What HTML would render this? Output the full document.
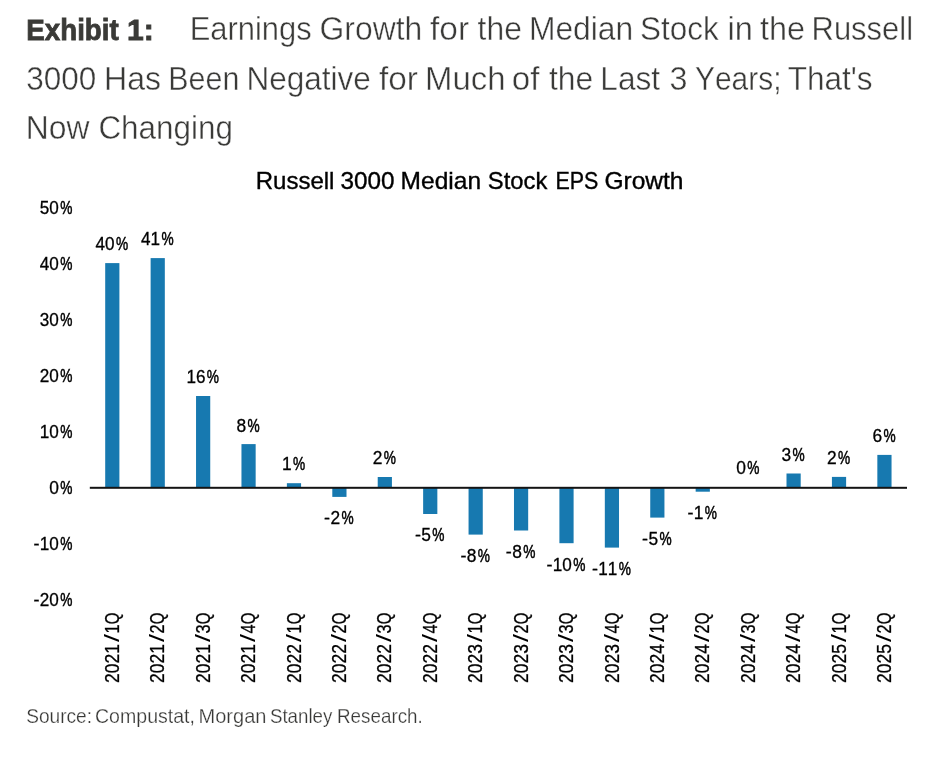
<!DOCTYPE html>
<html><head><meta charset="utf-8"><title>Exhibit 1</title>
<style>
html,body{margin:0;padding:0;background:#fff;}
body{width:928px;height:758px;overflow:hidden;font-family:"Liberation Sans",sans-serif;}
svg{display:block;will-change:transform;}
text{font-family:"Liberation Sans",sans-serif;font-kerning:none;}
.t{font-size:32.6px;fill:#3a3a38;stroke:#fff;stroke-width:0.42px;}
.tb{font-size:29.7px;font-weight:bold;fill:#3a3a37;stroke:#3a3a37;stroke-width:0.8px;}
.ct{font-size:23.6px;fill:#000;stroke:#000;stroke-width:0.35px;}
.lb{font-size:18.0px;fill:#000;stroke:#000;stroke-width:0.3px;}
.xl{font-size:19.6px;fill:#000;stroke:#000;stroke-width:0.3px;}
.pc{font-size:18.0px;fill:#000;stroke:#000;stroke-width:0.5px;}
.xs{font-size:19.6px;fill:#000;}
.src{font-size:20.3px;fill:#383836;stroke:#fff;stroke-width:0.25px;}
</style></head><body>
<svg width="928" height="758" viewBox="0 0 928 758">
<rect width="928" height="758" fill="#ffffff"/>

<text class="tb" x="26.35" y="39.7" textLength="92.39" lengthAdjust="spacingAndGlyphs">Exhibit</text>
<text class="tb" x="127.10" y="39.7" textLength="26.80" lengthAdjust="spacingAndGlyphs">1:</text>
<text class="t" x="189.67" y="39.7" textLength="121.95" lengthAdjust="spacingAndGlyphs">Earnings</text>
<text class="t" x="319.60" y="39.7" textLength="102.67" lengthAdjust="spacingAndGlyphs">Growth</text>
<text class="t" x="430.03" y="39.7" textLength="39.03" lengthAdjust="spacingAndGlyphs">for</text>
<text class="t" x="477.62" y="39.7" textLength="44.30" lengthAdjust="spacingAndGlyphs">the</text>
<text class="t" x="528.89" y="39.7" textLength="104.38" lengthAdjust="spacingAndGlyphs">Median</text>
<text class="t" x="640.07" y="39.7" textLength="78.68" lengthAdjust="spacingAndGlyphs">Stock</text>
<text class="t" x="727.62" y="39.7" textLength="25.40" lengthAdjust="spacingAndGlyphs">in</text>
<text class="t" x="760.01" y="39.7" textLength="45.03" lengthAdjust="spacingAndGlyphs">the</text>
<text class="t" x="811.56" y="39.7" textLength="101.51" lengthAdjust="spacingAndGlyphs">Russell</text>
<text class="t" x="26.20" y="89.7" textLength="70.03" lengthAdjust="spacingAndGlyphs">3000</text>
<text class="t" x="104.07" y="89.7" textLength="56.99" lengthAdjust="spacingAndGlyphs">Has</text>
<text class="t" x="168.30" y="89.7" textLength="71.07" lengthAdjust="spacingAndGlyphs">Been</text>
<text class="t" x="246.51" y="89.7" textLength="124.39" lengthAdjust="spacingAndGlyphs">Negative</text>
<text class="t" x="379.03" y="89.7" textLength="38.93" lengthAdjust="spacingAndGlyphs">for</text>
<text class="t" x="425.00" y="89.7" textLength="80.43" lengthAdjust="spacingAndGlyphs">Much</text>
<text class="t" x="511.81" y="89.7" textLength="27.64" lengthAdjust="spacingAndGlyphs">of</text>
<text class="t" x="549.02" y="89.7" textLength="44.30" lengthAdjust="spacingAndGlyphs">the</text>
<text class="t" x="600.30" y="89.7" textLength="59.83" lengthAdjust="spacingAndGlyphs">Last</text>
<text class="t" x="669.57" y="89.7" textLength="17.95" lengthAdjust="spacingAndGlyphs">3</text>
<text class="t" x="695.04" y="89.7" textLength="86.44" lengthAdjust="spacingAndGlyphs">Years;</text>
<text class="t" x="787.69" y="89.7" textLength="84.85" lengthAdjust="spacingAndGlyphs">That&#39;s</text>
<text class="t" x="25.69" y="139.1" textLength="63.74" lengthAdjust="spacingAndGlyphs">Now</text>
<text class="t" x="98.40" y="139.1" textLength="134.62" lengthAdjust="spacingAndGlyphs">Changing</text>
<text class="ct" x="255.68" y="189.4" textLength="78.78" lengthAdjust="spacingAndGlyphs">Russell</text>
<text class="ct" x="340.52" y="189.4" textLength="54.08" lengthAdjust="spacingAndGlyphs">3000</text>
<text class="ct" x="400.64" y="189.4" textLength="80.40" lengthAdjust="spacingAndGlyphs">Median</text>
<text class="ct" x="487.87" y="189.4" textLength="59.44" lengthAdjust="spacingAndGlyphs">Stock</text>
<text class="ct" x="555.39" y="189.4" textLength="42.95" lengthAdjust="spacingAndGlyphs">EPS</text>
<text class="ct" x="604.42" y="189.4" textLength="79.03" lengthAdjust="spacingAndGlyphs">Growth</text>
<text class="pc" x="60.21" y="213.6" textLength="12.18" lengthAdjust="spacingAndGlyphs">%</text><text class="lb" x="39.78" y="213.6" textLength="19.04" lengthAdjust="spacingAndGlyphs">50</text>
<text class="pc" x="60.21" y="269.6" textLength="12.18" lengthAdjust="spacingAndGlyphs">%</text><text class="lb" x="39.78" y="269.6" textLength="19.04" lengthAdjust="spacingAndGlyphs">40</text>
<text class="pc" x="60.21" y="325.6" textLength="12.18" lengthAdjust="spacingAndGlyphs">%</text><text class="lb" x="39.78" y="325.6" textLength="19.04" lengthAdjust="spacingAndGlyphs">30</text>
<text class="pc" x="60.21" y="381.6" textLength="12.18" lengthAdjust="spacingAndGlyphs">%</text><text class="lb" x="39.78" y="381.6" textLength="19.04" lengthAdjust="spacingAndGlyphs">20</text>
<text class="pc" x="60.21" y="437.6" textLength="12.18" lengthAdjust="spacingAndGlyphs">%</text><text class="lb" x="39.78" y="437.6" textLength="19.04" lengthAdjust="spacingAndGlyphs">10</text>
<text class="pc" x="60.21" y="493.6" textLength="12.18" lengthAdjust="spacingAndGlyphs">%</text><text class="lb" x="49.17" y="493.6" textLength="9.66" lengthAdjust="spacingAndGlyphs">0</text>
<text class="pc" x="60.21" y="549.6" textLength="12.18" lengthAdjust="spacingAndGlyphs">%</text><text class="lb" x="39.78" y="549.6" textLength="19.04" lengthAdjust="spacingAndGlyphs">10</text><text class="lb" x="33.45" y="549.6" textLength="6.00" lengthAdjust="spacingAndGlyphs">-</text>
<text class="pc" x="60.21" y="605.6" textLength="12.18" lengthAdjust="spacingAndGlyphs">%</text><text class="lb" x="39.78" y="605.6" textLength="19.04" lengthAdjust="spacingAndGlyphs">20</text><text class="lb" x="33.45" y="605.6" textLength="6.00" lengthAdjust="spacingAndGlyphs">-</text>
<rect x="105.20" y="263.10" width="14.2" height="224.65" fill="#1779b0"/>
<text class="pc" x="115.99" y="250.1" textLength="12.18" lengthAdjust="spacingAndGlyphs">%</text><text class="lb" x="95.56" y="250.1" textLength="19.04" lengthAdjust="spacingAndGlyphs">40</text>
<rect x="150.62" y="258.10" width="14.2" height="229.65" fill="#1779b0"/>
<text class="pc" x="161.41" y="245.0" textLength="12.18" lengthAdjust="spacingAndGlyphs">%</text><text class="lb" x="140.98" y="245.0" textLength="19.04" lengthAdjust="spacingAndGlyphs">41</text>
<rect x="196.04" y="396.00" width="14.2" height="91.75" fill="#1779b0"/>
<text class="pc" x="206.83" y="382.7" textLength="12.18" lengthAdjust="spacingAndGlyphs">%</text><text class="lb" x="186.40" y="382.7" textLength="19.04" lengthAdjust="spacingAndGlyphs">16</text>
<rect x="241.46" y="444.10" width="14.2" height="43.65" fill="#1779b0"/>
<text class="pc" x="247.55" y="432.1" textLength="12.18" lengthAdjust="spacingAndGlyphs">%</text><text class="lb" x="236.51" y="432.1" textLength="9.66" lengthAdjust="spacingAndGlyphs">8</text>
<rect x="286.88" y="483.20" width="14.2" height="4.55" fill="#1779b0"/>
<text class="pc" x="292.97" y="469.8" textLength="12.18" lengthAdjust="spacingAndGlyphs">%</text><text class="lb" x="281.93" y="469.8" textLength="9.66" lengthAdjust="spacingAndGlyphs">1</text>
<rect x="332.30" y="487.75" width="14.2" height="9.15" fill="#1779b0"/>
<text class="pc" x="341.49" y="523.7" textLength="12.18" lengthAdjust="spacingAndGlyphs">%</text><text class="lb" x="330.45" y="523.7" textLength="9.66" lengthAdjust="spacingAndGlyphs">2</text><text class="lb" x="324.12" y="523.7" textLength="6.00" lengthAdjust="spacingAndGlyphs">-</text>
<rect x="377.72" y="477.00" width="14.2" height="10.75" fill="#1779b0"/>
<text class="pc" x="383.81" y="463.9" textLength="12.18" lengthAdjust="spacingAndGlyphs">%</text><text class="lb" x="372.77" y="463.9" textLength="9.66" lengthAdjust="spacingAndGlyphs">2</text>
<rect x="423.14" y="487.75" width="14.2" height="26.25" fill="#1779b0"/>
<text class="pc" x="432.33" y="540.8" textLength="12.18" lengthAdjust="spacingAndGlyphs">%</text><text class="lb" x="421.29" y="540.8" textLength="9.66" lengthAdjust="spacingAndGlyphs">5</text><text class="lb" x="414.96" y="540.8" textLength="6.00" lengthAdjust="spacingAndGlyphs">-</text>
<rect x="468.56" y="487.75" width="14.2" height="46.85" fill="#1779b0"/>
<text class="pc" x="477.75" y="561.8" textLength="12.18" lengthAdjust="spacingAndGlyphs">%</text><text class="lb" x="466.71" y="561.8" textLength="9.66" lengthAdjust="spacingAndGlyphs">8</text><text class="lb" x="460.38" y="561.8" textLength="6.00" lengthAdjust="spacingAndGlyphs">-</text>
<rect x="513.98" y="487.75" width="14.2" height="42.75" fill="#1779b0"/>
<text class="pc" x="523.17" y="557.7" textLength="12.18" lengthAdjust="spacingAndGlyphs">%</text><text class="lb" x="512.13" y="557.7" textLength="9.66" lengthAdjust="spacingAndGlyphs">8</text><text class="lb" x="505.80" y="557.7" textLength="6.00" lengthAdjust="spacingAndGlyphs">-</text>
<rect x="559.40" y="487.75" width="14.2" height="55.45" fill="#1779b0"/>
<text class="pc" x="573.29" y="571.0" textLength="12.18" lengthAdjust="spacingAndGlyphs">%</text><text class="lb" x="552.86" y="571.0" textLength="19.04" lengthAdjust="spacingAndGlyphs">10</text><text class="lb" x="546.52" y="571.0" textLength="6.00" lengthAdjust="spacingAndGlyphs">-</text>
<rect x="604.82" y="487.75" width="14.2" height="59.85" fill="#1779b0"/>
<text class="pc" x="618.71" y="574.7" textLength="12.18" lengthAdjust="spacingAndGlyphs">%</text><text class="lb" x="598.28" y="574.7" textLength="19.04" lengthAdjust="spacingAndGlyphs">11</text><text class="lb" x="591.94" y="574.7" textLength="6.00" lengthAdjust="spacingAndGlyphs">-</text>
<rect x="650.24" y="487.75" width="14.2" height="29.85" fill="#1779b0"/>
<text class="pc" x="659.43" y="544.6" textLength="12.18" lengthAdjust="spacingAndGlyphs">%</text><text class="lb" x="648.39" y="544.6" textLength="9.66" lengthAdjust="spacingAndGlyphs">5</text><text class="lb" x="642.06" y="544.6" textLength="6.00" lengthAdjust="spacingAndGlyphs">-</text>
<rect x="695.66" y="487.75" width="14.2" height="3.95" fill="#1779b0"/>
<text class="pc" x="704.85" y="518.9" textLength="12.18" lengthAdjust="spacingAndGlyphs">%</text><text class="lb" x="693.81" y="518.9" textLength="9.66" lengthAdjust="spacingAndGlyphs">1</text><text class="lb" x="687.48" y="518.9" textLength="6.00" lengthAdjust="spacingAndGlyphs">-</text>
<rect x="741.08" y="487.30" width="14.2" height="0.45" fill="#1779b0"/>
<text class="pc" x="747.17" y="473.9" textLength="12.18" lengthAdjust="spacingAndGlyphs">%</text><text class="lb" x="736.13" y="473.9" textLength="9.66" lengthAdjust="spacingAndGlyphs">0</text>
<rect x="786.50" y="473.50" width="14.2" height="14.25" fill="#1779b0"/>
<text class="pc" x="792.59" y="460.9" textLength="12.18" lengthAdjust="spacingAndGlyphs">%</text><text class="lb" x="781.55" y="460.9" textLength="9.66" lengthAdjust="spacingAndGlyphs">3</text>
<rect x="831.92" y="476.90" width="14.2" height="10.85" fill="#1779b0"/>
<text class="pc" x="838.01" y="464.2" textLength="12.18" lengthAdjust="spacingAndGlyphs">%</text><text class="lb" x="826.97" y="464.2" textLength="9.66" lengthAdjust="spacingAndGlyphs">2</text>
<rect x="877.34" y="454.90" width="14.2" height="32.85" fill="#1779b0"/>
<text class="pc" x="883.43" y="442.0" textLength="12.18" lengthAdjust="spacingAndGlyphs">%</text><text class="lb" x="872.39" y="442.0" textLength="9.66" lengthAdjust="spacingAndGlyphs">6</text>
<rect x="89.8" y="486.8" width="817.2" height="2" fill="#141414"/>
<g transform="translate(118.9,682.2) rotate(-90)"><text class="xl" x="-0.73" y="0.0" textLength="38.86" lengthAdjust="spacingAndGlyphs">2021</text><text class="xs" x="40.30" y="0.0" textLength="8.10" lengthAdjust="spacingAndGlyphs">/</text><text class="xl" x="48.71" y="0.0" textLength="9.07" lengthAdjust="spacingAndGlyphs">1</text><text class="xl" x="57.94" y="0.0" textLength="11.62" lengthAdjust="spacingAndGlyphs">Q</text></g>
<g transform="translate(164.3,682.2) rotate(-90)"><text class="xl" x="-0.73" y="0.0" textLength="38.86" lengthAdjust="spacingAndGlyphs">2021</text><text class="xs" x="40.30" y="0.0" textLength="8.10" lengthAdjust="spacingAndGlyphs">/</text><text class="xl" x="48.71" y="0.0" textLength="9.07" lengthAdjust="spacingAndGlyphs">2</text><text class="xl" x="57.94" y="0.0" textLength="11.62" lengthAdjust="spacingAndGlyphs">Q</text></g>
<g transform="translate(209.7,682.2) rotate(-90)"><text class="xl" x="-0.73" y="0.0" textLength="38.86" lengthAdjust="spacingAndGlyphs">2021</text><text class="xs" x="40.30" y="0.0" textLength="8.10" lengthAdjust="spacingAndGlyphs">/</text><text class="xl" x="48.71" y="0.0" textLength="9.07" lengthAdjust="spacingAndGlyphs">3</text><text class="xl" x="57.94" y="0.0" textLength="11.62" lengthAdjust="spacingAndGlyphs">Q</text></g>
<g transform="translate(255.2,682.2) rotate(-90)"><text class="xl" x="-0.73" y="0.0" textLength="38.86" lengthAdjust="spacingAndGlyphs">2021</text><text class="xs" x="40.30" y="0.0" textLength="8.10" lengthAdjust="spacingAndGlyphs">/</text><text class="xl" x="48.71" y="0.0" textLength="9.07" lengthAdjust="spacingAndGlyphs">4</text><text class="xl" x="57.94" y="0.0" textLength="11.62" lengthAdjust="spacingAndGlyphs">Q</text></g>
<g transform="translate(300.6,682.2) rotate(-90)"><text class="xl" x="-0.73" y="0.0" textLength="38.86" lengthAdjust="spacingAndGlyphs">2022</text><text class="xs" x="40.30" y="0.0" textLength="8.10" lengthAdjust="spacingAndGlyphs">/</text><text class="xl" x="48.71" y="0.0" textLength="9.07" lengthAdjust="spacingAndGlyphs">1</text><text class="xl" x="57.94" y="0.0" textLength="11.62" lengthAdjust="spacingAndGlyphs">Q</text></g>
<g transform="translate(346.0,682.2) rotate(-90)"><text class="xl" x="-0.73" y="0.0" textLength="38.86" lengthAdjust="spacingAndGlyphs">2022</text><text class="xs" x="40.30" y="0.0" textLength="8.10" lengthAdjust="spacingAndGlyphs">/</text><text class="xl" x="48.71" y="0.0" textLength="9.07" lengthAdjust="spacingAndGlyphs">2</text><text class="xl" x="57.94" y="0.0" textLength="11.62" lengthAdjust="spacingAndGlyphs">Q</text></g>
<g transform="translate(391.4,682.2) rotate(-90)"><text class="xl" x="-0.73" y="0.0" textLength="38.86" lengthAdjust="spacingAndGlyphs">2022</text><text class="xs" x="40.30" y="0.0" textLength="8.10" lengthAdjust="spacingAndGlyphs">/</text><text class="xl" x="48.71" y="0.0" textLength="9.07" lengthAdjust="spacingAndGlyphs">3</text><text class="xl" x="57.94" y="0.0" textLength="11.62" lengthAdjust="spacingAndGlyphs">Q</text></g>
<g transform="translate(436.8,682.2) rotate(-90)"><text class="xl" x="-0.73" y="0.0" textLength="38.86" lengthAdjust="spacingAndGlyphs">2022</text><text class="xs" x="40.30" y="0.0" textLength="8.10" lengthAdjust="spacingAndGlyphs">/</text><text class="xl" x="48.71" y="0.0" textLength="9.07" lengthAdjust="spacingAndGlyphs">4</text><text class="xl" x="57.94" y="0.0" textLength="11.62" lengthAdjust="spacingAndGlyphs">Q</text></g>
<g transform="translate(482.3,682.2) rotate(-90)"><text class="xl" x="-0.73" y="0.0" textLength="38.86" lengthAdjust="spacingAndGlyphs">2023</text><text class="xs" x="40.30" y="0.0" textLength="8.10" lengthAdjust="spacingAndGlyphs">/</text><text class="xl" x="48.71" y="0.0" textLength="9.07" lengthAdjust="spacingAndGlyphs">1</text><text class="xl" x="57.94" y="0.0" textLength="11.62" lengthAdjust="spacingAndGlyphs">Q</text></g>
<g transform="translate(527.7,682.2) rotate(-90)"><text class="xl" x="-0.73" y="0.0" textLength="38.86" lengthAdjust="spacingAndGlyphs">2023</text><text class="xs" x="40.30" y="0.0" textLength="8.10" lengthAdjust="spacingAndGlyphs">/</text><text class="xl" x="48.71" y="0.0" textLength="9.07" lengthAdjust="spacingAndGlyphs">2</text><text class="xl" x="57.94" y="0.0" textLength="11.62" lengthAdjust="spacingAndGlyphs">Q</text></g>
<g transform="translate(573.1,682.2) rotate(-90)"><text class="xl" x="-0.73" y="0.0" textLength="38.86" lengthAdjust="spacingAndGlyphs">2023</text><text class="xs" x="40.30" y="0.0" textLength="8.10" lengthAdjust="spacingAndGlyphs">/</text><text class="xl" x="48.71" y="0.0" textLength="9.07" lengthAdjust="spacingAndGlyphs">3</text><text class="xl" x="57.94" y="0.0" textLength="11.62" lengthAdjust="spacingAndGlyphs">Q</text></g>
<g transform="translate(618.5,682.2) rotate(-90)"><text class="xl" x="-0.73" y="0.0" textLength="38.86" lengthAdjust="spacingAndGlyphs">2023</text><text class="xs" x="40.30" y="0.0" textLength="8.10" lengthAdjust="spacingAndGlyphs">/</text><text class="xl" x="48.71" y="0.0" textLength="9.07" lengthAdjust="spacingAndGlyphs">4</text><text class="xl" x="57.94" y="0.0" textLength="11.62" lengthAdjust="spacingAndGlyphs">Q</text></g>
<g transform="translate(663.9,682.2) rotate(-90)"><text class="xl" x="-0.73" y="0.0" textLength="38.86" lengthAdjust="spacingAndGlyphs">2024</text><text class="xs" x="40.30" y="0.0" textLength="8.10" lengthAdjust="spacingAndGlyphs">/</text><text class="xl" x="48.71" y="0.0" textLength="9.07" lengthAdjust="spacingAndGlyphs">1</text><text class="xl" x="57.94" y="0.0" textLength="11.62" lengthAdjust="spacingAndGlyphs">Q</text></g>
<g transform="translate(709.4,682.2) rotate(-90)"><text class="xl" x="-0.73" y="0.0" textLength="38.86" lengthAdjust="spacingAndGlyphs">2024</text><text class="xs" x="40.30" y="0.0" textLength="8.10" lengthAdjust="spacingAndGlyphs">/</text><text class="xl" x="48.71" y="0.0" textLength="9.07" lengthAdjust="spacingAndGlyphs">2</text><text class="xl" x="57.94" y="0.0" textLength="11.62" lengthAdjust="spacingAndGlyphs">Q</text></g>
<g transform="translate(754.8,682.2) rotate(-90)"><text class="xl" x="-0.73" y="0.0" textLength="38.86" lengthAdjust="spacingAndGlyphs">2024</text><text class="xs" x="40.30" y="0.0" textLength="8.10" lengthAdjust="spacingAndGlyphs">/</text><text class="xl" x="48.71" y="0.0" textLength="9.07" lengthAdjust="spacingAndGlyphs">3</text><text class="xl" x="57.94" y="0.0" textLength="11.62" lengthAdjust="spacingAndGlyphs">Q</text></g>
<g transform="translate(800.2,682.2) rotate(-90)"><text class="xl" x="-0.73" y="0.0" textLength="38.86" lengthAdjust="spacingAndGlyphs">2024</text><text class="xs" x="40.30" y="0.0" textLength="8.10" lengthAdjust="spacingAndGlyphs">/</text><text class="xl" x="48.71" y="0.0" textLength="9.07" lengthAdjust="spacingAndGlyphs">4</text><text class="xl" x="57.94" y="0.0" textLength="11.62" lengthAdjust="spacingAndGlyphs">Q</text></g>
<g transform="translate(845.6,682.2) rotate(-90)"><text class="xl" x="-0.73" y="0.0" textLength="38.86" lengthAdjust="spacingAndGlyphs">2025</text><text class="xs" x="40.30" y="0.0" textLength="8.10" lengthAdjust="spacingAndGlyphs">/</text><text class="xl" x="48.71" y="0.0" textLength="9.07" lengthAdjust="spacingAndGlyphs">1</text><text class="xl" x="57.94" y="0.0" textLength="11.62" lengthAdjust="spacingAndGlyphs">Q</text></g>
<g transform="translate(891.0,682.2) rotate(-90)"><text class="xl" x="-0.73" y="0.0" textLength="38.86" lengthAdjust="spacingAndGlyphs">2025</text><text class="xs" x="40.30" y="0.0" textLength="8.10" lengthAdjust="spacingAndGlyphs">/</text><text class="xl" x="48.71" y="0.0" textLength="9.07" lengthAdjust="spacingAndGlyphs">2</text><text class="xl" x="57.94" y="0.0" textLength="11.62" lengthAdjust="spacingAndGlyphs">Q</text></g>
<text class="src" x="26.21" y="723.2" textLength="65.85" lengthAdjust="spacingAndGlyphs">Source:</text>
<text class="src" x="94.99" y="723.2" textLength="99.99" lengthAdjust="spacingAndGlyphs">Compustat,</text>
<text class="src" x="198.54" y="723.2" textLength="67.88" lengthAdjust="spacingAndGlyphs">Morgan</text>
<text class="src" x="269.93" y="723.2" textLength="62.43" lengthAdjust="spacingAndGlyphs">Stanley</text>
<text class="src" x="337.04" y="723.2" textLength="85.70" lengthAdjust="spacingAndGlyphs">Research.</text>
</svg>
</body></html>
